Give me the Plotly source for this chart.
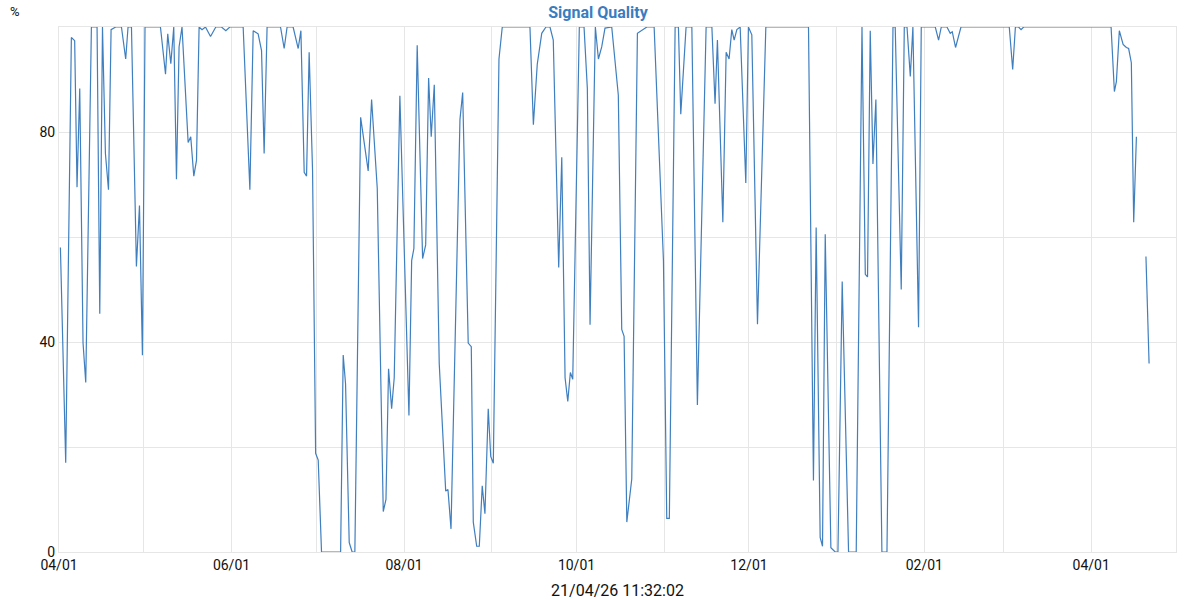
import plotly.graph_objects as go

timestamps = [
    "2025-04-01 12:00", "2025-04-03 09:00", "2025-04-05 09:00", "2025-04-06 13:00", "2025-04-07 09:00",
    "2025-04-08 08:00", "2025-04-09 12:00", "2025-04-10 11:00", "2025-04-12 11:00", "2025-04-14 11:00",
    "2025-04-15 10:00", "2025-04-16 09:00", "2025-04-17 10:00", "2025-04-18 12:00", "2025-04-19 10:00",
    "2025-04-21 01:00", "2025-04-23 02:00", "2025-04-24 14:00", "2025-04-25 10:00", "2025-04-26 15:00",
    "2025-04-28 09:00", "2025-04-29 11:00", "2025-04-30 12:00", "2025-05-01 10:00", "2025-05-06 21:00",
    "2025-05-08 16:00", "2025-05-09 11:00", "2025-05-10 13:00", "2025-05-11 14:00", "2025-05-12 13:00",
    "2025-05-13 11:00", "2025-05-14 12:00", "2025-05-16 16:00", "2025-05-17 14:00", "2025-05-18 16:00",
    "2025-05-19 15:00", "2025-05-20 13:00", "2025-05-21 14:00", "2025-05-22 19:00", "2025-05-24 14:00",
    "2025-05-26 11:00", "2025-05-28 11:00", "2025-05-30 00:00", "2025-05-31 10:00", "2025-06-05 03:00",
    "2025-06-07 12:00", "2025-06-08 16:00", "2025-06-10 10:00", "2025-06-11 15:00", "2025-06-12 13:00",
    "2025-06-13 14:00", "2025-06-18 08:00", "2025-06-19 15:00", "2025-06-20 16:00", "2025-06-22 19:00",
    "2025-06-24 14:00", "2025-06-25 13:00", "2025-06-26 17:00", "2025-06-27 13:00", "2025-06-28 11:00",
    "2025-06-29 16:00", "2025-06-30 18:00", "2025-07-01 16:00", "2025-07-02 20:00", "2025-07-09 14:00",
    "2025-07-10 12:00", "2025-07-11 08:00", "2025-07-12 15:00", "2025-07-13 16:00", "2025-07-14 15:00",
    "2025-07-16 16:00", "2025-07-19 08:00", "2025-07-20 13:00", "2025-07-22 13:00", "2025-07-24 16:00",
    "2025-07-25 15:00", "2025-07-26 13:00", "2025-07-27 15:00", "2025-07-28 13:00", "2025-07-30 13:00",
    "2025-08-02 18:00", "2025-08-03 17:00", "2025-08-04 12:00", "2025-08-05 16:00", "2025-08-07 14:00",
    "2025-08-08 16:00", "2025-08-09 17:00", "2025-08-10 15:00", "2025-08-11 17:00", "2025-08-13 11:00",
    "2025-08-15 18:00", "2025-08-16 13:00", "2025-08-17 15:00", "2025-08-20 19:00", "2025-08-21 18:00",
    "2025-08-23 17:00", "2025-08-24 19:00", "2025-08-25 12:00", "2025-08-26 17:00", "2025-08-27 15:00",
    "2025-08-28 16:00", "2025-08-29 15:00", "2025-08-30 19:00", "2025-08-31 16:00", "2025-09-01 14:00",
    "2025-09-03 14:00", "2025-09-04 18:00", "2025-09-14 13:00", "2025-09-15 18:00", "2025-09-17 03:00",
    "2025-09-18 17:00", "2025-09-20 05:00", "2025-09-21 15:00", "2025-09-22 19:00", "2025-09-24 17:00",
    "2025-09-25 19:00", "2025-09-26 23:00", "2025-09-27 22:00", "2025-09-28 20:00", "2025-09-29 16:00",
    "2025-10-02 00:00", "2025-10-03 16:00", "2025-10-04 20:00", "2025-10-05 19:00", "2025-10-07 16:00",
    "2025-10-08 18:00", "2025-10-09 22:00", "2025-10-11 02:00", "2025-10-13 11:00", "2025-10-15 19:00",
    "2025-10-17 00:00", "2025-10-17 20:00", "2025-10-18 19:00", "2025-10-20 13:00", "2025-10-22 13:00",
    "2025-10-24 16:00", "2025-10-25 21:00", "2025-10-28 11:00", "2025-10-31 18:00", "2025-11-01 22:00",
    "2025-11-02 20:00", "2025-11-04 21:00", "2025-11-06 01:00", "2025-11-06 21:00", "2025-11-08 18:00",
    "2025-11-10 19:00", "2025-11-12 18:00", "2025-11-15 20:00", "2025-11-17 21:00", "2025-11-19 00:00",
    "2025-11-19 20:00", "2025-11-21 18:00", "2025-11-22 22:00", "2025-11-23 23:00", "2025-11-24 22:00",
    "2025-11-25 18:00", "2025-11-26 17:00", "2025-11-27 21:00", "2025-11-29 21:00", "2025-11-30 19:00",
    "2025-12-02 00:00", "2025-12-04 00:00", "2025-12-06 23:00", "2025-12-22 01:00", "2025-12-23 19:00",
    "2025-12-24 18:00", "2025-12-26 04:00", "2025-12-27 00:00", "2025-12-27 23:00", "2025-12-29 23:00",
    "2025-12-31 12:00", "2026-01-01 11:00", "2026-01-02 23:00", "2026-01-05 05:00", "2026-01-07 22:00",
    "2026-01-09 23:00", "2026-01-11 03:00", "2026-01-11 22:00", "2026-01-12 21:00", "2026-01-13 20:00",
    "2026-01-14 21:00", "2026-01-17 00:00", "2026-01-18 19:00", "2026-01-20 22:00", "2026-01-21 17:00",
    "2026-01-23 20:00", "2026-01-24 22:00", "2026-01-25 21:00", "2026-01-27 01:00", "2026-01-27 23:00",
    "2026-01-29 23:00", "2026-01-30 22:00", "2026-02-04 21:00", "2026-02-06 01:00", "2026-02-07 00:00",
    "2026-02-09 00:00", "2026-02-10 04:00", "2026-02-10 21:00", "2026-02-12 01:00", "2026-02-13 23:00",
    "2026-03-03 01:00", "2026-03-04 06:00", "2026-03-05 05:00", "2026-03-06 08:00", "2026-03-07 05:00",
    "2026-03-08 03:00", "2026-04-08 01:00", "2026-04-09 05:00", "2026-04-09 22:00", "2026-04-10 23:00",
    "2026-04-12 07:00", "2026-04-13 11:00", "2026-04-14 06:00", "2026-04-15 05:00", "2026-04-16 01:00",
    "2026-04-17 00:00", "2026-04-18 12:00", "2026-04-20 09:00", "2026-04-21 11:32",
]

signal_quality = [
    58, 17, 98, 97.4, 69.5,
    88.3, 39.8, 32.3, 100, 100,
    45.4, 100, 75.9, 69, 99.5,
    100, 100, 93.9, 100, 100,
    54.4, 66, 37.5, 100, 100,
    91, 98.7, 93, 100, 71,
    96.2, 100, 78, 79.1, 71.6,
    74.6, 100, 99.5, 100, 98.2,
    100, 100, 99.3, 100, 100,
    69, 99.3, 98.7, 95.5, 75.9,
    100, 100, 95.9, 100, 100,
    95.9, 99.3, 72.3, 71.6, 95.2,
    72.6, 18.8, 17.5, 0, 0,
    37.5, 32, 1.8, 0, 0,
    82.8, 72.6, 86.2, 69.3, 7.7,
    10, 34.9, 27.3, 33.2, 86.9,
    26, 55.5, 57.8, 96.5, 55.9,
    58.5, 90.3, 79.1, 89, 35.9,
    11.6, 11.9, 4.4, 82.4, 87.5,
    39.8, 39.1, 5.7, 1.1, 1.1,
    12.6, 7.3, 27.3, 18.2, 16.9,
    93.9, 100, 100, 81.4, 92.9,
    98.8, 100, 100, 97.5, 54.2,
    75.2, 33.2, 28.7, 34.2, 32.9,
    100, 100, 88.3, 43.3, 100,
    93.9, 96.2, 99.8, 100, 87,
    42.4, 41.1, 5.7, 13.9, 98.8,
    99.5, 100, 100, 55.5, 6.4,
    6.4, 100, 100, 83.4, 100,
    100, 28, 100, 100, 85.4,
    97.5, 62.8, 95.2, 93.9, 99.5,
    97.5, 99.5, 100, 70.3, 100,
    98.5, 43.4, 100, 100, 13.6,
    61.8, 2.8, 1.1, 60.5, 0.8,
    0, 0, 51.5, 0, 0,
    100, 52.9, 52.4, 99.3, 73.9,
    86.2, 0, 0, 100, 100,
    50, 100, 100, 90.6, 100,
    42.8, 100, 100, 97.5, 100,
    100, 98.8, 99.1, 96.1, 100,
    100, 91.9, 100, 100, 99.5,
    100, 100, 87.7, 89.6, 99.3,
    96.7, 96.1, 95.9, 93.2, 62.8,
    79.1, None, 56.3, 35.9,
]

chart_title = "Signal Quality"
y_unit = "%"
x_title = "21/04/26 11:32:02"
x_range = ["2025-04-01", "2026-05-01"]

grid = "#e6e6e6"
blue = "#3f7fbf"

W, H = 1200, 600

fig = go.Figure(go.Scatter(
    x=timestamps, y=signal_quality, mode="lines",
    line=dict(color=blue, width=1.2), connectgaps=False,
    hoverinfo="x+y",
))

fig.update_layout(
    width=W, height=H,
    margin=dict(l=59, r=24, t=27, b=48, autoexpand=False),
    paper_bgcolor="white", plot_bgcolor="white",
    font=dict(family="Roboto", size=14, color="#111111"),
    showlegend=False,
    title=dict(text="<b>" + chart_title + "</b>", x=598 / W, xref="container", xanchor="center",
               y=1 - 12 / H, yref="container", yanchor="middle",
               font=dict(family="Roboto", size=16, color="#3a7dbf")),
    annotations=[dict(text=y_unit, xref="paper", yref="paper", x=-0.0394, y=1.0286,
                      xanchor="center", yanchor="middle", showarrow=False,
                      font=dict(family="Roboto", size=13, color="#111111"))],
)

fig.update_xaxes(
    type="date", range=x_range, tick0="2025-04-01", dtick="M2", tickformat="%m/%d",
    showgrid=True, gridcolor=grid, gridwidth=1,
    minor=dict(dtick="M1", showgrid=True, gridcolor=grid, gridwidth=1),
    showline=True, linecolor=grid, linewidth=1, mirror=True,
    ticks="", zeroline=False, automargin=False,
    tickfont=dict(family="Roboto", size=14, color="#111111"),
    title=dict(text=x_title, font=dict(family="Roboto", size=16, color="#111111"), standoff=16),
)

fig.update_yaxes(
    range=[0, 100], tick0=0, dtick=40,
    showgrid=True, gridcolor=grid, gridwidth=1,
    minor=dict(dtick=20, showgrid=True, gridcolor=grid, gridwidth=1),
    showline=True, linecolor=grid, linewidth=1, mirror=True,
    ticks="", zeroline=False, automargin=False,
    tickfont=dict(family="Roboto", size=14, color="#111111"),
)

fig.write_html("out.html", config={"displayModeBar": False},
               post_script="document.body.style.margin='0';")
